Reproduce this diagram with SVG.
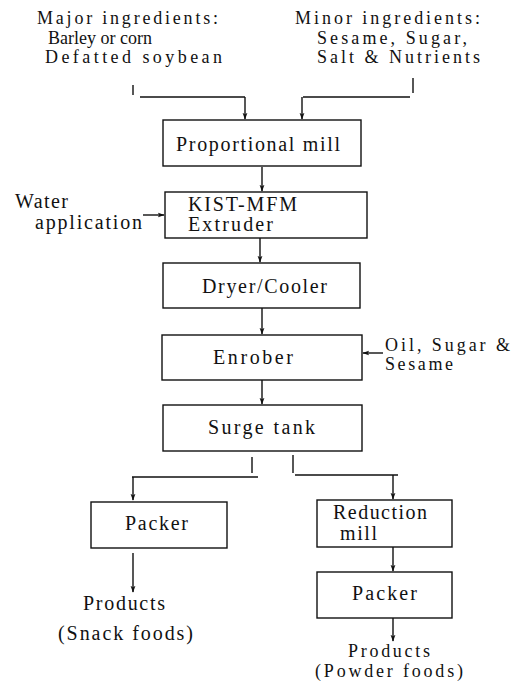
<svg xmlns="http://www.w3.org/2000/svg" width="518" height="683" viewBox="0 0 518 683">
<style>
text{font-family:"Liberation Serif","Times New Roman",serif;font-size:20px;fill:#111}
.sm{font-size:18px}
.box{fill:none;stroke:#111;stroke-width:1.4}
.ln{fill:none;stroke:#111;stroke-width:1.4}
.ar{fill:none;stroke:#111;stroke-width:1.4;marker-end:url(#ah)}
</style>
<defs>
<marker id="ah" viewBox="0 0 10 10" refX="9" refY="5" markerWidth="7" markerHeight="7" markerUnits="userSpaceOnUse" orient="auto">
<path d="M0,1.5 L10,5 L0,8.5 L2.5,5 Z" fill="#111"/>
</marker>
</defs>
<rect width="518" height="683" fill="#fff"/>
<g id="inputs">
<text class="sm" x="37" y="24" textLength="181" lengthAdjust="spacing">Major ingredients:</text>
<text class="sm" x="48" y="43.5">Barley or corn</text>
<text class="sm" x="45" y="62.5" textLength="177" lengthAdjust="spacing">Defatted soybean</text>
<text class="sm" x="295" y="24" textLength="185" lengthAdjust="spacing">Minor ingredients:</text>
<text class="sm" x="317" y="43.5" textLength="150" lengthAdjust="spacing">Sesame, Sugar,</text>
<text class="sm" x="317" y="62.5" textLength="163" lengthAdjust="spacing">Salt &amp; Nutrients</text>
</g>
<g id="water">
<text x="15" y="208" textLength="53" lengthAdjust="spacing">Water</text>
<text x="35" y="229" textLength="107" lengthAdjust="spacing">application</text>
</g>
<g id="oil">
<text class="sm" x="385" y="350.5" textLength="125" lengthAdjust="spacing">Oil, Sugar &amp;</text>
<text class="sm" x="385" y="369.5" textLength="68" lengthAdjust="spacing">Sesame</text>
</g>
<g id="proportional-mill">
<rect class="box" x="163" y="120" width="198" height="46"/>
<text x="176" y="151" textLength="164" lengthAdjust="spacing">Proportional mill</text>
</g>
<g id="extruder">
<rect class="box" x="165" y="192" width="202" height="46"/>
<text x="188" y="211" textLength="109" lengthAdjust="spacing">KIST-MFM</text>
<text x="188" y="231" textLength="85" lengthAdjust="spacing">Extruder</text>
</g>
<g id="dryer">
<rect class="box" x="163" y="263" width="197" height="45"/>
<text x="202" y="293" textLength="125" lengthAdjust="spacing">Dryer/Cooler</text>
</g>
<g id="enrober">
<rect class="box" x="162" y="335" width="200" height="45"/>
<text x="213" y="364" textLength="80" lengthAdjust="spacing">Enrober</text>
</g>
<g id="surge-tank">
<rect class="box" x="163" y="405" width="199" height="46"/>
<text x="208" y="434" textLength="107" lengthAdjust="spacing">Surge tank</text>
</g>
<g id="packer-left">
<rect class="box" x="91" y="502" width="136" height="46"/>
<text x="125" y="530" textLength="63" lengthAdjust="spacing">Packer</text>
</g>
<g id="reduction-mill">
<rect class="box" x="317" y="500" width="135" height="47"/>
<text x="333" y="519" textLength="94" lengthAdjust="spacing">Reduction</text>
<text x="340" y="540" textLength="37" lengthAdjust="spacing">mill</text>
</g>
<g id="packer-right">
<rect class="box" x="317" y="572" width="135" height="46"/>
<text x="352" y="600" textLength="65" lengthAdjust="spacing">Packer</text>
</g>
<g id="snack-products">
<text x="83" y="610" textLength="82" lengthAdjust="spacing">Products</text>
<text x="58" y="640" textLength="135" lengthAdjust="spacing">(Snack foods)</text>
</g>
<g id="powder-products">
<text class="sm" x="348" y="657" textLength="82" lengthAdjust="spacing">Products</text>
<text class="sm" x="315" y="677" textLength="148" lengthAdjust="spacing">(Powder foods)</text>
</g>
<g id="connectors">
<path class="ln" d="M133,85 V95 M140,97 H245"/>
<path class="ar" d="M245,97 V119"/>
<path class="ln" d="M413,78 V93 M303,97 H410"/>
<path class="ar" d="M302,97 V119"/>
<path class="ar" d="M262,167 V191"/>
<path class="ar" d="M143,215 H164"/>
<path class="ar" d="M260,238 V262"/>
<path class="ar" d="M262,308 V334"/>
<path class="ar" d="M383,353 H363"/>
<path class="ar" d="M262,380 V404"/>
<path class="ln" d="M252,457 V473 M132,477 H258"/>
<path class="ar" d="M133,477 V500"/>
<path class="ln" d="M293,455 V473 M295,475 H398"/>
<path class="ar" d="M393,475 V499"/>
<path class="ar" d="M133,553 V592"/>
<path class="ar" d="M393,547 V571"/>
<path class="ar" d="M393,618 V641"/>
</g>
</svg>
